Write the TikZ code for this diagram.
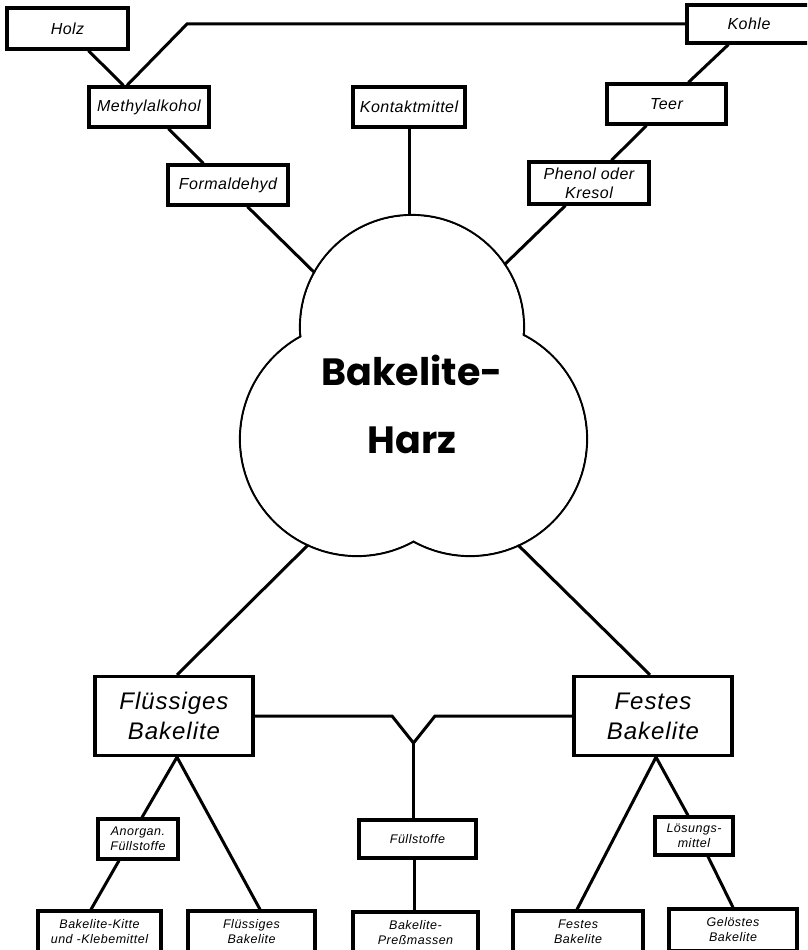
\documentclass[tikz,border=0pt]{standalone}
\usepackage{fontspec}
\setmainfont{Liberation Sans}
\newfontfamily\harzfont{Poppins}
\newfontfamily\medfont{Liberation Sans}[LetterSpace=3]
\newfontfamily\bigfont{Liberation Sans}[LetterSpace=4]
\newfontfamily\smlfont{Liberation Sans}[LetterSpace=4]
\begin{document}
\begin{tikzpicture}[x=1pt,y=-1pt,
  box/.style={draw,line width=3.2pt,inner sep=0pt,align=center,fill=white},
  con/.style={line width=3pt},
  med/.style={font=\medfont\itshape\fontsize{16}{19}\selectfont},
  big/.style={font=\bigfont\itshape\fontsize{24}{30}\selectfont},
  sml/.style={font=\smlfont\itshape\fontsize{12.5}{15}\selectfont},
  cloudline/.style={line width=2.2pt},
]
\clip (0,0) rectangle (807,950);
% boxes
\node[box,med,minimum width=121pt,minimum height=41pt] (holz) at (67.5,28.5) {Holz};
\node[box,med,minimum width=120pt,minimum height=40pt] (methyl) at (149,107) {Methylalkohol};
\node[box,med,minimum width=120pt,minimum height=40pt] (formal) at (228,185) {Formaldehyd};
\node[box,med,minimum width=112pt,minimum height=40pt] (kontakt) at (409,107) {Kontaktmittel};
\node[box,med,minimum width=124pt,minimum height=38pt] (kohle) at (749,24) {Kohle};
\node[box,med,minimum width=119pt,minimum height=40pt] (teer) at (666.5,104) {Teer};
\node[box,med,minimum width=120pt,minimum height=42pt] (phenol) at (589,183) {Phenol oder\\Kresol};
\node[box,big,minimum width=158pt,minimum height=79pt] (flues) at (174,716) {Flüssiges\\Bakelite};
\node[box,big,minimum width=158pt,minimum height=79pt] (festes) at (653,716) {Festes\\Bakelite};
\node[box,sml,minimum width=80pt,minimum height=40pt] (anorg) at (138,839) {Anorgan.\\Füllstoffe};
\node[box,sml,minimum width=117pt,minimum height=38pt] (fuell) at (417.5,839) {Füllstoffe};
\node[box,sml,minimum width=78pt,minimum height=38pt] (loes) at (694,836) {Lösungs-\\mittel};
\node[box,sml,minimum width=123pt,minimum height=42pt] (kitte) at (99.5,932) {Bakelite-Kitte\\und -Klebemittel};
\node[box,sml,minimum width=127pt,minimum height=42pt] (fluesB) at (251.5,932) {Flüssiges\\Bakelite};
\node[box,sml,minimum width=125pt,minimum height=42pt] (press) at (415.5,933) {Bakelite-\\Preßmassen};
\node[box,sml,minimum width=130pt,minimum height=42pt] (festesB) at (578,932) {Festes\\Bakelite};
\node[box,sml,minimum width=128pt,minimum height=42pt] (geloest) at (733,930) {Gelöstes\\Bakelite};
% coordinates
\coordinate (kbend) at (187,24);
\coordinate (cA) at (320,278);
\coordinate (cB) at (409,222);
\coordinate (cC) at (501,268);
\coordinate (cD) at (310,543);
\coordinate (cE) at (515,542);
\coordinate (yl) at (392,716);
\coordinate (yr) at (435,716);
\coordinate (yj) at (413.5,743);
% connectors
\draw[con] ([xshift=83pt]holz.south west) -- ([xshift=36pt]methyl.north west);
\draw[con] ([xshift=-22pt]methyl.north) -- (kbend) -- (kohle.west);
\draw[con] ([xshift=81pt]methyl.south west) -- ([xshift=37pt]formal.north west);
\draw[con] ([xshift=81pt]formal.south west) -- (cA);
\draw[con] (kontakt.south) -- (cB);
\draw[con] ([xshift=43pt]kohle.south west) -- ([xshift=83pt]teer.north west);
\draw[con] ([xshift=41pt]teer.south west) -- ([xshift=84pt]phenol.north west);
\draw[con] ([xshift=38pt]phenol.south west) -- (cC);
\draw[con] (cD) -- ([xshift=3pt]flues.north);
\draw[con] (cE) -- ([xshift=-3pt]festes.north);
\draw[con,line join=miter] (flues.east) -- (yl) -- (yj) -- (yr) -- (festes.west);
\draw[con] (yj) -- (yj |- fuell.north);
\draw[con] ([xshift=-3.5pt]fuell.south) -- ([xshift=-1.5pt]press.north);
\draw[con] ([xshift=3pt]flues.south) -- ([xshift=4pt]anorg.north);
\draw[con] ([xshift=3pt]flues.south) -- ([xshift=8.5pt]fluesB.north);
\draw[con] ([xshift=-19pt]anorg.south) -- ([xshift=-8.5pt]kitte.north);
\draw[con] ([xshift=3pt]festes.south) -- ([xshift=-1pt]festesB.north);
\draw[con] ([xshift=3pt]festes.south) -- ([xshift=-6pt]loes.north);
\draw[con] ([xshift=14pt]loes.south) -- (geloest.north);
% cloud
\draw[cloudline] (412,327) circle[radius=112pt];
\draw[cloudline] (357,439) circle[radius=117pt];
\draw[cloudline] (470,439) circle[radius=117pt];
\fill[white] (412,327) circle[radius=110.9pt];
\fill[white] (357,439) circle[radius=115.9pt];
\fill[white] (470,439) circle[radius=115.9pt];
\node[font=\harzfont\bfseries\fontsize{38}{68}\selectfont,align=center] (harz) at (412,404) {Bakelite-\\Harz};
\end{tikzpicture}
\end{document}
